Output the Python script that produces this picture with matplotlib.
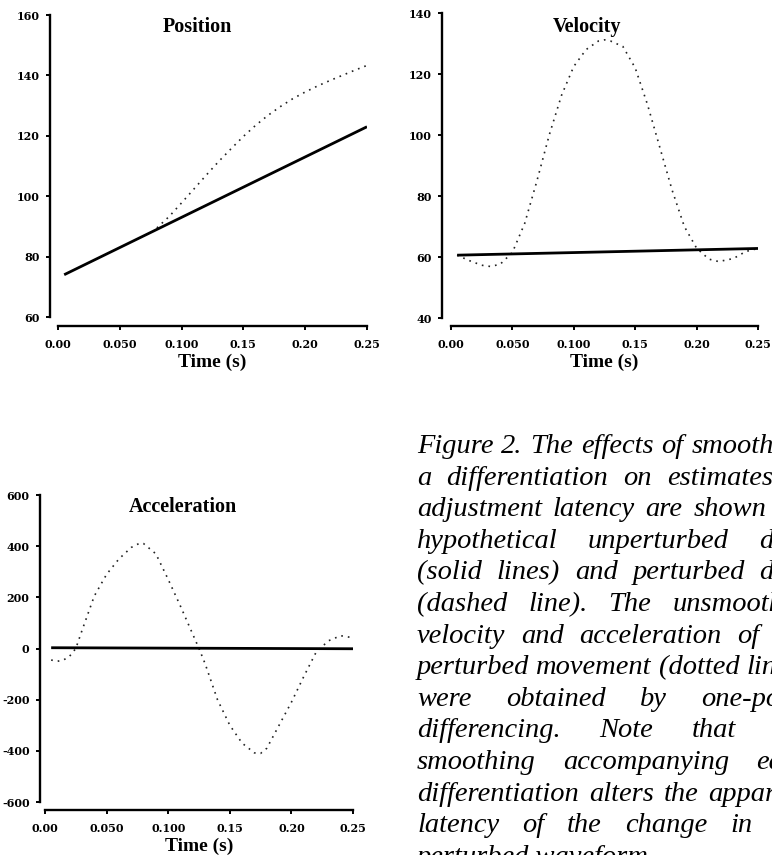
import numpy as np
import matplotlib.pyplot as plt

# ---- data ----
time_ticks = [0.0, 0.05, 0.10, 0.15, 0.20, 0.25]
time_tick_labels = ['0.00', '0.050', '0.100', '0.15', '0.20', '0.25']

# Position
pos_time_solid = [0.005, 0.25]
pos_solid = [74, 123]
pos_time_dot = [0.08, 0.09, 0.10, 0.11, 0.12, 0.13, 0.14, 0.15, 0.16, 0.17,
                0.18, 0.19, 0.20, 0.21, 0.22, 0.23, 0.24, 0.25]
pos_dot = [89.5, 93.3, 97.8, 102.4, 107.0, 111.5, 115.7, 119.8, 123.5, 126.8,
           129.7, 132.3, 134.5, 136.5, 138.3, 140.0, 141.7, 143.3]
pos_yticks = [60, 80, 100, 120, 140, 160]
pos_ytick_labels = ['60', '80', '100', '120', '140', '160']

# Velocity
vel_time_solid = [0.005, 0.25]
vel_solid = [60.6, 62.8]
vel_time_dot = [0.005, 0.015, 0.025, 0.032, 0.04, 0.05, 0.06, 0.07, 0.08, 0.09,
                0.10, 0.11, 0.12, 0.125, 0.13, 0.14, 0.15, 0.16, 0.17, 0.18,
                0.19, 0.20, 0.21, 0.218, 0.23, 0.24, 0.25]
vel_dot = [60.6, 58.8, 57.3, 56.9, 57.6, 61.5, 71.0, 85.0, 100.0, 113.0,
           122.5, 128.0, 130.8, 131.2, 130.8, 129.0, 122.0, 110.0, 96.0, 82.0,
           70.0, 62.9, 59.3, 58.5, 59.5, 61.8, 62.8]
vel_yticks = [40, 60, 80, 100, 120, 140]
vel_ytick_labels = ['40', '60', '80', '100', '120', '140']

# Acceleration
acc_time_solid = [0.005, 0.25]
acc_solid = [3, -1]
acc_time_dot = [0.005, 0.01, 0.015, 0.02, 0.025, 0.03, 0.04, 0.05, 0.06, 0.07,
                0.077, 0.08, 0.09, 0.10, 0.11, 0.12, 0.125, 0.13, 0.14, 0.15,
                0.16, 0.17, 0.175, 0.18, 0.19, 0.20, 0.21, 0.22, 0.23, 0.24, 0.25]
acc_dot = [-45, -50, -45, -30, 0, 70, 205, 290, 350, 395,
           412, 410, 370, 270, 165, 55, 0, -60, -200, -300,
           -370, -408, -410, -390, -300, -210, -110, -15, 30, 50, 42]
acc_yticks = [-600, -400, -200, 0, 200, 400, 600]
acc_ytick_labels = ['-600', '-400', '-200', '0', '200', '400', '600']

caption_lines = [
    "Figure 2. The effects of smoothing",
    "a differentiation on estimates of",
    "adjustment latency are shown for",
    "hypothetical unperturbed data",
    "(solid lines) and perturbed data",
    "(dashed line).  The unsmoothed",
    "velocity and acceleration of the",
    "perturbed movement (dotted lines)",
    "were obtained by one-point",
    "differencing.  Note that the",
    "smoothing accompanying each",
    "differentiation alters the apparent",
    "latency of the change in the",
    "perturbed waveform.",
]

W, H = 772, 855
fig = plt.figure(figsize=(W / 100, H / 100), dpi=100)

tick_font = dict(family='DejaVu Serif', weight='bold', size=8)
label_font = dict(family='Liberation Serif', weight='bold', size=14)


def px_axes(left, right, top, bottom):
    return fig.add_axes([left / W, 1 - bottom / H, (right - left) / W, (bottom - top) / H])


def style_axes(ax, ylim, yticks, ylabels, left_off, bottom_off, title, title_x, title_y):
    ax.set_xlim(0, 0.25)
    ax.set_ylim(*ylim)
    for s in ['top', 'right']:
        ax.spines[s].set_visible(False)
    ax.spines['left'].set_position(('outward', left_off * 0.72))
    ax.spines['bottom'].set_position(('outward', bottom_off * 0.72))
    for s in ['left', 'bottom']:
        ax.spines[s].set_linewidth(1.7)
    ax.set_xticks(time_ticks)
    ax.set_xticklabels(time_tick_labels, fontdict=tick_font)
    ax.set_yticks(yticks)
    ax.set_yticklabels(ylabels, fontdict=tick_font)
    ax.tick_params(axis='both', direction='out', length=3, width=1.4)
    ax.tick_params(axis='x', pad=6.5)
    ax.tick_params(axis='y', pad=4.5)
    ax.set_xlabel('Time (s)', fontdict=label_font, labelpad=2.5)
    ax.text(title_x, title_y, title, transform=ax.transAxes, ha='center',
            va='baseline', family='Liberation Serif', weight='bold', size=14.5)


dot_style = dict(color='#222222', lw=1.2, linestyle=(0, (1, 3)))
solid_style = dict(color='black', lw=2.0, solid_capstyle='butt')

# Position
ax1 = px_axes(58, 367, 15, 317)
ax1.plot(pos_time_dot, pos_dot, **dot_style)
ax1.plot(pos_time_solid, pos_solid, **solid_style)
style_axes(ax1, (60, 160), pos_yticks, pos_ytick_labels, 8, 9, 'Position', 0.45, 0.944)

# Velocity
ax2 = px_axes(451, 758, 13, 318)
ax2.plot(vel_time_dot, vel_dot, **dot_style)
ax2.plot(vel_time_solid, vel_solid, **solid_style)
style_axes(ax2, (40, 140), vel_yticks, vel_ytick_labels, 9, 8, 'Velocity', 0.443, 0.939)

# Acceleration
ax3 = px_axes(45, 353, 495, 802)
ax3.plot(acc_time_dot, acc_dot, **dot_style)
ax3.plot(acc_time_solid, acc_solid, **solid_style)
style_axes(ax3, (-600, 600), acc_yticks, acc_ytick_labels, 5, 8, 'Acceleration', 0.448, 0.944)

# Caption, justified between x=417 and x=810 px (the column runs past the right edge)
cap_font = dict(family='Liberation Serif', style='italic', size=20.5)
renderer = fig.canvas.get_renderer()
x_left, x_right = 417, 810
base0, step = 453, 31.6
for i, line in enumerate(caption_lines):
    y = 1 - (base0 + i * step) / H
    if i == len(caption_lines) - 1:
        fig.text(x_left / W, y, line, va='baseline', ha='left', **cap_font)
        continue
    words = line.split()
    texts = [fig.text(0, y, w, va='baseline', ha='left', **cap_font) for w in words]
    widths = [t.get_window_extent(renderer=renderer).width for t in texts]
    gap = (x_right - x_left - sum(widths)) / max(len(words) - 1, 1)
    x = x_left
    for t, w in zip(texts, widths):
        t.set_x(x / W)
        x += w + gap

fig.savefig('out.png', dpi=100)
